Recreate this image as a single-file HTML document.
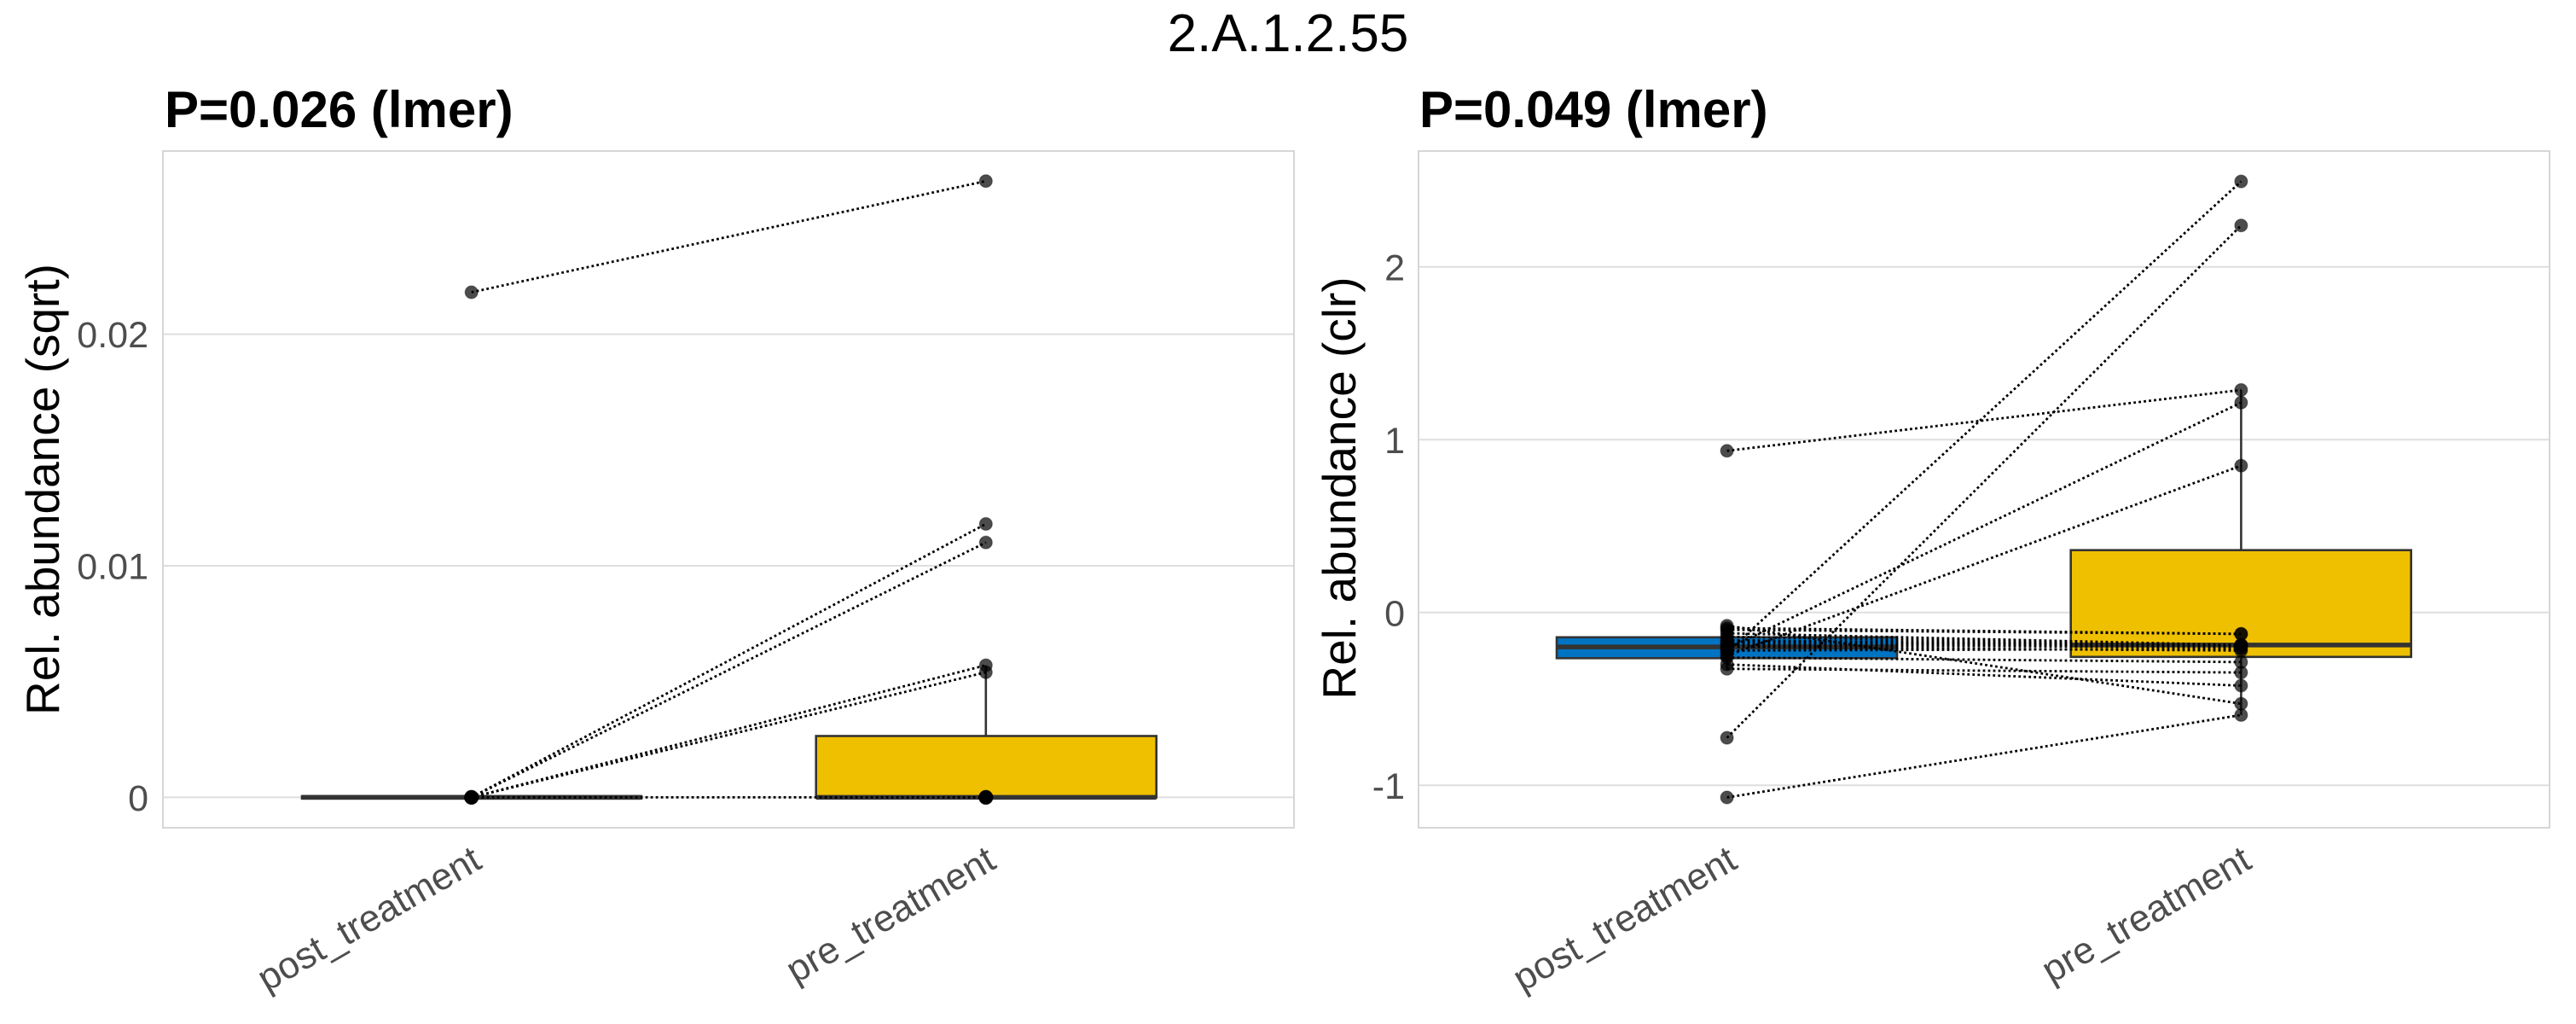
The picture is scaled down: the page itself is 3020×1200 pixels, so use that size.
<!DOCTYPE html>
<html>
<head>
<meta charset="utf-8">
<style>
  html, body { margin: 0; padding: 0; background: #ffffff; }
  svg { display: block; }
  text { font-family: "Liberation Sans", Arial, sans-serif; }
</style>
</head>
<body>
<svg width="3020" height="1200" viewBox="0 0 3020 1200" xmlns="http://www.w3.org/2000/svg">
  <rect x="0" y="0" width="3020" height="1200" fill="#ffffff"/>
  <text x="1510" y="60" text-anchor="middle" font-size="62" fill="#000">2.A.1.2.55</text>

  <!-- LEFT PANEL -->
  <text x="193" y="149" font-size="60" font-weight="bold" fill="#000">P=0.026 (lmer)</text>
  <g stroke="#DEDEDE" stroke-width="2">
    <line x1="191" y1="934.4" x2="1517" y2="934.4"/>
    <line x1="191" y1="663.0" x2="1517" y2="663.0"/>
    <line x1="191" y1="391.6" x2="1517" y2="391.6"/>
  </g>
  <rect x="191" y="177" width="1326" height="793" fill="none" stroke="#D6D6D6" stroke-width="2"/>
  <g font-size="43" fill="#4D4D4D" text-anchor="end">
    <text x="174" y="950">0</text>
    <text x="174" y="678.5">0.01</text>
    <text x="174" y="407">0.02</text>
  </g>
  <text transform="translate(69,573.5) rotate(-90)" text-anchor="middle" font-size="55" fill="#000">Rel. abundance (sqrt)</text>
  <g font-size="44" fill="#4D4D4D" text-anchor="end">
    <text transform="translate(567,1016) rotate(-30)">post_treatment</text>
    <text transform="translate(1170,1016) rotate(-30)">pre_treatment</text>
  </g>
  <g stroke="#333333" stroke-width="2.6">
    <rect x="354" y="933" width="398" height="2.8" fill="#0073C2"/>
    <line x1="354" y1="934.4" x2="752" y2="934.4" stroke-width="5.5"/>
    <line x1="1155.8" y1="862.5" x2="1155.8" y2="779.6"/>
    <rect x="956.7" y="862.5" width="399" height="71.9" fill="#EFC000"/>
    <line x1="956.7" y1="934.4" x2="1355.7" y2="934.4" stroke-width="5.5"/>
  </g>
  <g stroke="#000" stroke-width="2.8" stroke-dasharray="2.8 3.2" fill="none">
    <line x1="552.7" y1="342.5" x2="1155.8" y2="212.2"/>
    <line x1="552.7" y1="934.4" x2="1155.8" y2="614.0"/>
    <line x1="552.7" y1="934.4" x2="1155.8" y2="635.7"/>
    <line x1="552.7" y1="934.4" x2="1155.8" y2="779.6"/>
    <line x1="552.7" y1="934.4" x2="1155.8" y2="787.8"/>
    <line x1="552.7" y1="934.4" x2="1155.8" y2="934.4"/>
  </g>
  <g fill="#000" fill-opacity="0.7" stroke="#000" stroke-opacity="0.35" stroke-width="1.2">
    <circle cx="552.7" cy="342.5" r="7.5"/>
    <circle cx="552.7" cy="934.4" r="8"/>
    <circle cx="552.7" cy="934.4" r="8"/>
    <circle cx="552.7" cy="934.4" r="8"/>
    <circle cx="552.7" cy="934.4" r="8"/>
    <circle cx="1155.8" cy="212.2" r="7.5"/>
    <circle cx="1155.8" cy="614.0" r="7.5"/>
    <circle cx="1155.8" cy="635.7" r="7.5"/>
    <circle cx="1155.8" cy="779.6" r="7.5"/>
    <circle cx="1155.8" cy="787.8" r="7.5"/>
    <circle cx="1155.8" cy="934.4" r="8"/>
    <circle cx="1155.8" cy="934.4" r="8"/>
    <circle cx="1155.8" cy="934.4" r="8"/>
    <circle cx="1155.8" cy="934.4" r="8"/>
  </g>

  <!-- RIGHT PANEL -->
  <text x="1664" y="149" font-size="60" font-weight="bold" fill="#000">P=0.049 (lmer)</text>
  <g stroke="#DEDEDE" stroke-width="2">
    <line x1="1663" y1="920.3" x2="2989" y2="920.3"/>
    <line x1="1663" y1="717.8" x2="2989" y2="717.8"/>
    <line x1="1663" y1="515.3" x2="2989" y2="515.3"/>
    <line x1="1663" y1="312.8" x2="2989" y2="312.8"/>
  </g>
  <rect x="1663" y="177" width="1326" height="793" fill="none" stroke="#D6D6D6" stroke-width="2"/>
  <g font-size="43" fill="#4D4D4D" text-anchor="end">
    <text x="1647" y="936">-1</text>
    <text x="1647" y="733.5">0</text>
    <text x="1647" y="531">1</text>
    <text x="1647" y="328.5">2</text>
  </g>
  <text transform="translate(1589,572) rotate(-90)" text-anchor="middle" font-size="55" fill="#000">Rel. abundance (clr)</text>
  <g font-size="44" fill="#4D4D4D" text-anchor="end">
    <text transform="translate(2039,1016) rotate(-30)">post_treatment</text>
    <text transform="translate(2642,1016) rotate(-30)">pre_treatment</text>
  </g>
  <g stroke="#333333" stroke-width="2.6">
    <line x1="2024.6" y1="746.8" x2="2024.6" y2="733.2"/>
    <line x1="2024.6" y1="771.3" x2="2024.6" y2="783.8"/>
    <rect x="1825" y="746.8" width="399" height="24.5" fill="#0073C2"/>
    <line x1="1825" y1="758.1" x2="2224" y2="758.1" stroke-width="5.5"/>
    <line x1="2627.4" y1="644.7" x2="2627.4" y2="457.0"/>
    <line x1="2627.4" y1="769.8" x2="2627.4" y2="837.9"/>
    <rect x="2427.7" y="644.7" width="399" height="125.1" fill="#EFC000"/>
    <line x1="2427.7" y1="755.9" x2="2826.7" y2="755.9" stroke-width="5.5"/>
  </g>
  <g stroke="#000" stroke-width="2.8" stroke-dasharray="2.8 3.2" fill="none">
    <line x1="2024.6" y1="528.3" x2="2627.4" y2="457.0"/>
    <line x1="2024.6" y1="934.5" x2="2627.4" y2="837.9"/>
    <line x1="2024.6" y1="864.6" x2="2627.4" y2="264.2"/>
    <line x1="2024.6" y1="764.4" x2="2627.4" y2="212.6"/>
    <line x1="2024.6" y1="760.3" x2="2627.4" y2="471.8"/>
    <line x1="2024.6" y1="768.4" x2="2627.4" y2="545.7"/>
    <line x1="2024.6" y1="733.2" x2="2627.4" y2="824.7"/>
    <line x1="2024.6" y1="778.6" x2="2627.4" y2="803.5"/>
    <line x1="2024.6" y1="783.8" x2="2627.4" y2="788.1"/>
    <line x1="2024.6" y1="770.5" x2="2627.4" y2="775.9"/>
    <line x1="2024.6" y1="736.0" x2="2627.4" y2="742.9"/>
    <line x1="2024.6" y1="738.1" x2="2627.4" y2="742.9"/>
    <line x1="2024.6" y1="742.1" x2="2627.4" y2="755.9"/>
    <line x1="2024.6" y1="746.2" x2="2627.4" y2="755.9"/>
    <line x1="2024.6" y1="750.2" x2="2627.4" y2="755.9"/>
    <line x1="2024.6" y1="752.2" x2="2627.4" y2="755.9"/>
    <line x1="2024.6" y1="754.3" x2="2627.4" y2="756.3"/>
    <line x1="2024.6" y1="756.3" x2="2627.4" y2="758.3"/>
    <line x1="2024.6" y1="758.3" x2="2627.4" y2="762.4"/>
    <line x1="2024.6" y1="762.4" x2="2627.4" y2="760.3"/>
  </g>
  <g fill="#000" fill-opacity="0.7" stroke="#000" stroke-opacity="0.35" stroke-width="1.2">
    <circle cx="2024.6" cy="528.3" r="7.5"/>
    <circle cx="2024.6" cy="934.5" r="7.5"/>
    <circle cx="2024.6" cy="864.6" r="7.5"/>
    <circle cx="2024.6" cy="733.2" r="7.5"/>
    <circle cx="2024.6" cy="736.0" r="7.5"/>
    <circle cx="2024.6" cy="738.1" r="7.5"/>
    <circle cx="2024.6" cy="742.1" r="7.5"/>
    <circle cx="2024.6" cy="746.2" r="7.5"/>
    <circle cx="2024.6" cy="750.2" r="7.5"/>
    <circle cx="2024.6" cy="752.2" r="7.5"/>
    <circle cx="2024.6" cy="754.3" r="7.5"/>
    <circle cx="2024.6" cy="756.3" r="7.5"/>
    <circle cx="2024.6" cy="758.3" r="7.5"/>
    <circle cx="2024.6" cy="760.3" r="7.5"/>
    <circle cx="2024.6" cy="762.4" r="7.5"/>
    <circle cx="2024.6" cy="764.4" r="7.5"/>
    <circle cx="2024.6" cy="768.4" r="7.5"/>
    <circle cx="2024.6" cy="770.5" r="7.5"/>
    <circle cx="2024.6" cy="778.6" r="7.5"/>
    <circle cx="2024.6" cy="783.8" r="7.5"/>
    <circle cx="2627.4" cy="212.6" r="7.5"/>
    <circle cx="2627.4" cy="264.2" r="7.5"/>
    <circle cx="2627.4" cy="457.0" r="7.5"/>
    <circle cx="2627.4" cy="471.8" r="7.5"/>
    <circle cx="2627.4" cy="545.7" r="7.5"/>
    <circle cx="2627.4" cy="742.9" r="7.5"/>
    <circle cx="2627.4" cy="742.9" r="7.5"/>
    <circle cx="2627.4" cy="755.9" r="7.5"/>
    <circle cx="2627.4" cy="755.9" r="7.5"/>
    <circle cx="2627.4" cy="755.9" r="7.5"/>
    <circle cx="2627.4" cy="756.3" r="7.5"/>
    <circle cx="2627.4" cy="758.3" r="7.5"/>
    <circle cx="2627.4" cy="760.3" r="7.5"/>
    <circle cx="2627.4" cy="762.4" r="7.5"/>
    <circle cx="2627.4" cy="775.9" r="7.5"/>
    <circle cx="2627.4" cy="788.1" r="7.5"/>
    <circle cx="2627.4" cy="803.5" r="7.5"/>
    <circle cx="2627.4" cy="824.7" r="7.5"/>
    <circle cx="2627.4" cy="837.9" r="7.5"/>
  </g>
</svg>
</body>
</html>
